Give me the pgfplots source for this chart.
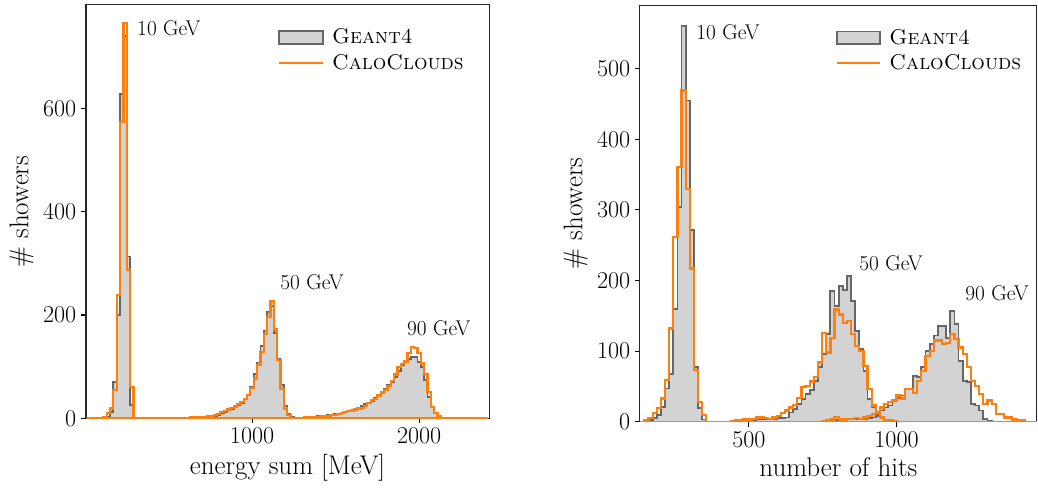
\documentclass[border=0pt]{standalone}
\usepackage{fontspec}
\usepackage{pgfplots}
\pgfplotsset{compat=1.18}
\definecolor{geantfill}{HTML}{D3D3D3}
\definecolor{geantedge}{HTML}{666666}
\definecolor{ccorange}{HTML}{FF7F0E}
\pgfplotsset{
  histax/.style={
    scale only axis,
    axis line style={black!85, line width=0.8pt},
    tick align=outside, xtick pos=bottom, ytick pos=left,
    major tick length=3.5pt, tick style={black, line width=0.8pt},
    tick label style={font=\fontsize{17.4}{20}\selectfont},
    label style={font=\fontsize{19.5}{23}\selectfont},
    /pgf/number format/assume math mode=true,
    /pgf/number format/1000 sep={},
    ymin=0,
    legend style={draw=none, fill=none, font=\fontsize{15.4}{18}\selectfont,
      row sep=2pt, nodes={inner xsep=6pt}},
    legend cell align=left,
  },
  g4/.style={const plot, fill=geantfill, draw=geantedge, line width=1.3pt,
    legend image code/.code={\draw[##1, line width=1.3pt] (0cm,-0.16cm) rectangle (1.1cm,0.16cm);}},
  cc/.style={const plot, draw=ccorange, line width=1.6pt,
    legend image code/.code={\draw[##1] (0cm,0cm) -- (1.1cm,0cm);}},
}
\tikzset{lab/.style={anchor=west, inner sep=0pt, font=\fontsize{15.4}{18}\selectfont}}
\begin{document}
\begin{tikzpicture}
\useasboundingbox (-2.184cm,-1.745cm) rectangle (24.181cm,10.625cm);
% left panel: energy sum
\begin{axis}[histax, name=left, at={(0,0)}, anchor=south west,
  width=10.24cm, height=10.50cm,
  xmin=6, xmax=2419, ymax=800,
  xtick={1000,2000}, ytick={0,200,400,600},
  xlabel={energy sum [MeV]}, ylabel={\# showers},
  legend style={at={(0.466,0.956)}, anchor=north west}]
\addplot[g4] coordinates {(10,0) (110,1) (130,3) (150,12) (170,70) (190,200) (210,628) (230,740) (250,313) (270,26) (290,0) (2410,0)} \closedcycle;
\addlegendentry{\textsc{Geant4}}
\addplot[g4, forget plot] coordinates {(10,0) (570,0) (590,1) (610,1) (630,1) (650,2) (670,2) (690,2) (710,3) (730,3) (750,4) (770,5) (790,7) (810,10) (830,12) (850,15) (870,17) (890,21) (910,25) (930,30) (950,37) (970,46) (990,60) (1010,85) (1030,108) (1050,140) (1070,170) (1090,205) (1110,218) (1130,165) (1150,115) (1170,65) (1190,25) (1210,8) (1230,2) (1250,0) (2410,0)} \closedcycle;
\addplot[g4, forget plot] coordinates {(10,0) (1290,1) (1310,1) (1330,2) (1350,3) (1370,3) (1390,4) (1410,4) (1430,5) (1450,6) (1470,7) (1490,8) (1510,9) (1530,10) (1550,12) (1570,14) (1590,16) (1610,18) (1630,21) (1650,24) (1670,27) (1690,30) (1710,34) (1730,39) (1750,44) (1770,50) (1790,57) (1810,64) (1830,70) (1850,80) (1870,92) (1890,103) (1910,108) (1930,115) (1950,119) (1970,118) (1990,109) (2010,100) (2030,74) (2050,41) (2070,22) (2090,10) (2110,4) (2130,1) (2150,0) (2410,0)} \closedcycle;
\addplot[cc] coordinates {(10,0) (110,3) (130,10) (150,19) (170,55) (190,239) (210,574) (230,765) (250,287) (270,61) (290,0) (2410,0)};
\addlegendentry{\textsc{CaloClouds}}
\addplot[cc, forget plot] coordinates {(10,0) (550,1) (570,1) (590,1) (610,1) (630,2) (650,2) (670,2) (690,3) (710,3) (730,4) (750,5) (770,7) (790,9) (810,12) (830,14) (850,17) (870,20) (890,23) (910,27) (930,32) (950,38) (970,45) (990,58) (1010,77) (1030,103) (1050,128) (1070,163) (1090,196) (1110,226) (1130,172) (1150,113) (1170,57) (1190,19) (1210,6) (1230,1) (1250,0) (2410,0)};
\addplot[cc, forget plot] coordinates {(10,0) (1290,1) (1310,2) (1330,2) (1350,2) (1370,3) (1390,3) (1410,4) (1430,5) (1450,5) (1470,6) (1490,7) (1510,9) (1530,11) (1550,12) (1570,14) (1590,15) (1610,17) (1630,19) (1650,20) (1670,24) (1690,30) (1710,36) (1730,38) (1750,44) (1770,50) (1790,55) (1810,63) (1830,72) (1850,85) (1870,99) (1890,105) (1910,110) (1930,127) (1950,138) (1970,136) (1990,127) (2010,106) (2030,86) (2050,51) (2070,22) (2090,11) (2110,5) (2130,1) (2150,0) (2410,0)};
\node[lab] at (axis cs:311,755) {10 GeV};
\node[lab] at (axis cs:1168,264) {50 GeV};
\node[lab] at (axis cs:1926,174) {90 GeV};
\end{axis}
% right panel: number of hits
\begin{axis}[histax, name=right, at={(14.07cm,-0.086cm)}, anchor=south west,
  width=10.08cm, height=10.58cm,
  xmin=131, xmax=1475, ymax=590,
  xtick={500,1000}, ytick={0,100,200,300,400,500},
  xlabel={number of hits}, ylabel={\# showers},
  legend style={at={(0.482,0.956)}, anchor=north west}]
\addplot[g4] coordinates {(132,0) (160,2) (174,5) (188,9) (202,21) (216,47) (230,68) (244,160) (258,304) (272,561) (286,455) (300,271) (314,78) (328,19) (342,3) (356,0) (1476,0)} \closedcycle;
\addlegendentry{\textsc{Geant4}}
\addplot[g4, forget plot] coordinates {(132,0) (468,1) (482,1) (496,2) (510,2) (524,3) (538,3) (552,3) (566,4) (580,4) (594,5) (608,5) (622,6) (636,13) (650,18) (664,25) (678,32) (692,39) (706,45) (720,58) (734,77) (748,96) (762,124) (776,185) (790,164) (804,192) (818,187) (832,206) (846,171) (860,129) (874,103) (888,72) (902,32) (916,20) (930,11) (944,4) (958,1) (972,0) (1476,0)} \closedcycle;
\addplot[g4, forget plot] coordinates {(132,0) (748,1) (762,1) (776,1) (790,2) (804,2) (818,2) (832,3) (846,3) (860,3) (874,4) (888,4) (902,5) (916,6) (930,8) (944,16) (958,20) (972,23) (986,30) (1000,34) (1014,37) (1028,46) (1042,46) (1056,65) (1070,63) (1084,77) (1098,100) (1112,110) (1126,122) (1140,136) (1154,136) (1168,119) (1182,157) (1196,138) (1210,86) (1224,58) (1238,56) (1252,25) (1266,23) (1280,16) (1294,4) (1308,1) (1322,0) (1476,0)} \closedcycle;
\addplot[cc] coordinates {(132,0) (146,2) (160,5) (174,12) (188,19) (202,33) (216,59) (230,132) (244,262) (258,361) (272,469) (286,330) (300,217) (314,73) (328,28) (342,9) (356,0) (1476,0)};
\addlegendentry{\textsc{CaloClouds}}
\addplot[cc, forget plot] coordinates {(132,0) (440,1) (454,2) (468,2) (482,3) (496,3) (510,4) (524,6) (538,6) (552,5) (566,4) (580,6) (594,8) (608,12) (622,16) (636,20) (650,24) (664,34) (678,49) (692,51) (706,57) (720,63) (734,84) (748,126) (762,98) (776,119) (790,159) (804,152) (818,140) (832,143) (846,124) (860,107) (874,100) (888,79) (902,46) (916,23) (930,13) (944,6) (958,2) (972,2) (986,1) (1000,0) (1476,0)};
\addplot[cc, forget plot] coordinates {(132,0) (748,1) (762,2) (776,3) (790,7) (804,3) (818,3) (832,4) (846,4) (860,5) (874,4) (888,6) (902,8) (916,11) (930,13) (944,20) (958,25) (972,28) (986,30) (1000,37) (1014,33) (1028,46) (1042,46) (1056,41) (1070,58) (1084,72) (1098,93) (1112,100) (1126,115) (1140,115) (1154,110) (1168,112) (1182,124) (1196,117) (1210,105) (1224,96) (1238,77) (1252,58) (1266,51) (1280,39) (1294,25) (1308,30) (1322,25) (1336,11) (1350,11) (1364,6) (1378,6) (1392,3) (1406,2) (1420,2) (1434,0) (1476,0)};
\node[lab] at (axis cs:321,552) {10 GeV};
\node[lab] at (axis cs:873,224) {50 GeV};
\node[lab] at (axis cs:1232,182) {90 GeV};
\end{axis}
\end{tikzpicture}
\end{document}
